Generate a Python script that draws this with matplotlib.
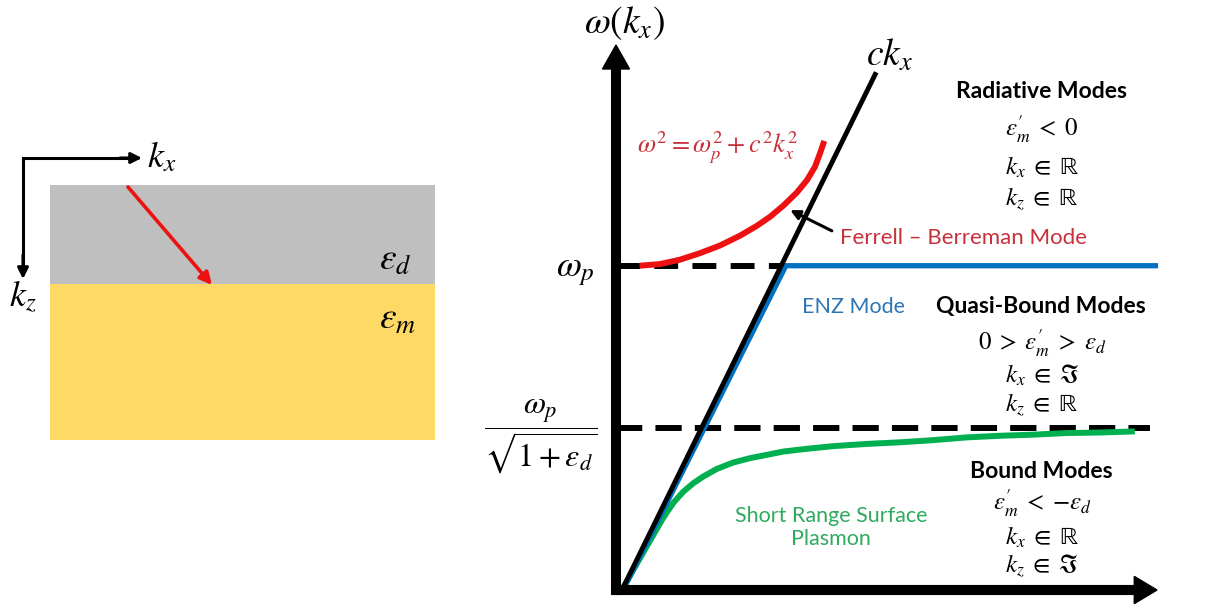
import matplotlib
matplotlib.use("Agg")
import matplotlib.pyplot as plt
from matplotlib.patches import Rectangle

plt.rcParams['font.family'] = ['Lato', 'DejaVu Sans']
plt.rcParams['mathtext.fontset'] = 'stix'

W, H = 1216, 610

# dispersion curves: k_x and omega in axis units (0..1 up to the arrow tips)
light_k = [0.011, 0.481]
light_w = [0.0, 0.950]

enz_k = [0.013, 0.314, 1.002]
enz_w = [0.0, 0.595, 0.595]

fb_k = [0.044, 0.081, 0.118, 0.155, 0.192, 0.229, 0.260, 0.285, 0.309,
        0.334, 0.353, 0.368, 0.377, 0.385]
fb_w = [0.595, 0.598, 0.606, 0.618, 0.632, 0.650, 0.668, 0.685, 0.705,
        0.729, 0.752, 0.777, 0.801, 0.824]

srsp_k = [0.011, 0.032, 0.051, 0.069, 0.087, 0.106, 0.124, 0.143, 0.161,
          0.186, 0.217, 0.248, 0.279, 0.309, 0.352, 0.402, 0.463, 0.525,
          0.587, 0.648, 0.710, 0.771, 0.833, 0.895, 0.959]
srsp_w = [0.0, 0.037, 0.070, 0.101, 0.132, 0.160, 0.180, 0.196, 0.208,
          0.222, 0.234, 0.242, 0.248, 0.254, 0.259, 0.264, 0.268, 0.271,
          0.275, 0.280, 0.283, 0.285, 0.288, 0.289, 0.291]

w_p = 0.595
w_sp = 0.298
wp_dash_end = 0.314
wsp_dash_end = 0.987

RED = '#EE1111'
RED_TXT = '#C8303A'
BLUE = '#0070C0'
BLUE_TXT = '#2E75B6'
GREEN = '#00B050'
GREEN_TXT = '#2FAA5E'

fig = plt.figure(figsize=(W / 100, H / 100), dpi=100)

# background axes in pixel units for the slab sketch and the labels
bg = fig.add_axes([0, 0, 1, 1])
bg.set_xlim(0, W)
bg.set_ylim(H, 0)
bg.axis('off')

# two-layer slab
bg.add_patch(Rectangle((50, 185), 385, 99, facecolor='#BFBFBF', edgecolor='none'))
bg.add_patch(Rectangle((50, 284), 385, 156, facecolor='#FFD966', edgecolor='none'))

# coordinate frame
bg.plot([23, 23, 130], [268, 158, 158], color='black', lw=2.2,
        solid_joinstyle='miter', solid_capstyle='butt')
bg.annotate('', xy=(142, 158), xytext=(120, 158),
            arrowprops=dict(arrowstyle='-|>', color='black', lw=2.2,
                            mutation_scale=16, shrinkA=0, shrinkB=0))
bg.annotate('', xy=(23, 279), xytext=(23, 255),
            arrowprops=dict(arrowstyle='-|>', color='black', lw=2.2,
                            mutation_scale=16, shrinkA=0, shrinkB=0))
bg.annotate('', xy=(212, 285), xytext=(128, 187),
            arrowprops=dict(arrowstyle='-|>', color=RED, lw=2.6,
                            mutation_scale=18, shrinkA=0, shrinkB=0))

bg.text(147, 157, r'$k_x$', fontsize=26, ha='left', va='center')
bg.text(9, 297, r'$k_z$', fontsize=26, ha='left', va='center')
bg.text(379, 259, r'$\varepsilon_d$', fontsize=27, ha='left', va='center')
bg.text(379, 318, r'$\varepsilon_m$', fontsize=27, ha='left', va='center')

# dispersion diagram
ax = fig.add_axes([616 / W, (H - 590) / H, (1157 - 616) / W, (590 - 45) / H])
ax.set_xlim(0, 1)
ax.set_ylim(0, 1)
ax.axis('off')

ax.arrow(0, -0.008, 0, 1.008, width=0.016, head_width=0.050,
         head_length=0.044, length_includes_head=True, color='black',
         clip_on=False, zorder=5)
ax.arrow(-0.008, 0, 1.008, 0, width=0.016, head_width=0.050,
         head_length=0.042, length_includes_head=True, color='black',
         clip_on=False, zorder=5)

ax.plot([0, wp_dash_end], [w_p, w_p], color='black', lw=4.3,
        dashes=(4.0, 2.4), dash_capstyle='butt', clip_on=False, zorder=2)
ax.plot([0, wsp_dash_end], [w_sp, w_sp], color='black', lw=4.3,
        dashes=(4.4, 2.2), dash_capstyle='butt', clip_on=False, zorder=2)

ax.plot(fb_k, fb_w, color=RED, lw=4.3, solid_capstyle='butt',
        solid_joinstyle='round', clip_on=False, zorder=3)
ax.plot(srsp_k, srsp_w, color=GREEN, lw=4.3, solid_capstyle='butt',
        solid_joinstyle='round', clip_on=False, zorder=3)
ax.plot(enz_k, enz_w, color=BLUE, lw=3.8, solid_capstyle='butt',
        solid_joinstyle='miter', clip_on=False, zorder=3)
ax.plot(light_k, light_w, color='black', lw=3.5, solid_capstyle='butt',
        clip_on=False, zorder=4)

ax.annotate('', xy=(0.322, 0.697), xytext=(0.399, 0.659),
            arrowprops=dict(arrowstyle='-|>', color='black', lw=2.2,
                            mutation_scale=14, shrinkA=0, shrinkB=0))

# axis and curve labels
bg.text(624, 23, r'$\omega(k_x)$', fontsize=27, ha='center', va='center')
bg.text(866, 55, r'$ck_x$', fontsize=27, ha='left', va='center')
bg.text(575, 271, r'$\omega_p$', fontsize=26, ha='center', va='center')
bg.text(541, 437, r'$\dfrac{\omega_p}{\sqrt{1+\varepsilon_d}}$', fontsize=23,
        ha='center', va='center')
bg.text(718, 148, r'$\omega^2=\omega_p^2+c^2k_x^2$', fontsize=19, color=RED_TXT,
        ha='center', va='center')

bg.text(840, 238, 'Ferrell – Berreman Mode', fontsize=16, color=RED_TXT,
        ha='left', va='center')
bg.text(853, 307, 'ENZ Mode', fontsize=15.5, color=BLUE_TXT, ha='center', va='center')
bg.text(831, 506, 'Short Range Surface\nPlasmon', fontsize=15.5, color=GREEN_TXT,
        ha='center', va='top', linespacing=1.2)

# mode regions
R = r'\mathrm{ℝ}'
I = r'\mathrm{ℑ}'
regions = [
    ('Radiative Modes', 91, [(r"$\varepsilon_m' \;<\; 0$", 129),
                             (r'$k_x \;\in\; %s$' % R, 167),
                             (r'$k_z \;\in\; %s$' % R, 199)]),
    ('Quasi-Bound Modes', 307, [(r"$0 \;>\; \varepsilon_m' \;>\; \varepsilon_d$", 343),
                                (r'$k_x \;\in\; %s$' % I, 375),
                                (r'$k_z \;\in\; %s$' % R, 405)]),
    ('Bound Modes', 471, [(r"$\varepsilon_m' \;<\; {-}\varepsilon_d$", 503),
                          (r'$k_x \;\in\; %s$' % R, 537),
                          (r'$k_z \;\in\; %s$' % I, 566)]),
]
for title, ty, rows in regions:
    bg.text(1041, ty, title, fontsize=16.5, fontweight='bold', ha='center', va='center')
    for s, y in rows:
        bg.text(1042, y, s, fontsize=18, ha='center', va='center')

fig.savefig('out.png', dpi=100)
